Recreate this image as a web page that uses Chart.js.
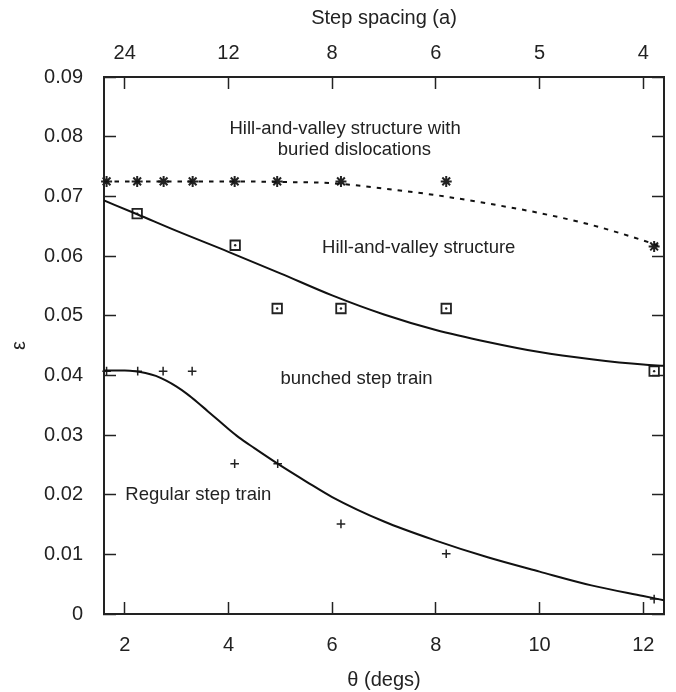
<!DOCTYPE html>
<html>
<head>
<meta charset="utf-8">
<script src="https://cdn.jsdelivr.net/npm/chart.js@4"></script>
<style>
  html, body { margin: 0; padding: 0; background: #fff; }
</style>
</head>
<body>
<canvas id="chart" width="676" height="692"></canvas>
<script>
// measured points
const starTheta = [1.65, 2.24, 2.75, 3.31, 4.12, 4.94, 6.17, 8.2, 12.21];
const starEps = [0.0725, 0.0725, 0.0725, 0.0725, 0.0725, 0.0725, 0.0725, 0.0725, 0.0616];

const squareTheta = [2.24, 4.13, 4.94, 6.17, 8.2, 12.21];
const squareEps = [0.0671, 0.0618, 0.0512, 0.0512, 0.0512, 0.0407];

const plusTheta = [1.65, 2.25, 2.74, 3.3, 4.12, 4.95, 6.17, 8.2, 12.21];
const plusEps = [0.0407, 0.0407, 0.0407, 0.0407, 0.0252, 0.0252, 0.0151, 0.0101, 0.0025];

// fitted curves
const dashTheta = [1.6, 3, 4, 5, 6, 7, 8, 9, 10, 11, 12, 12.4];
const dashEps = [0.0725, 0.0725, 0.0725, 0.0724, 0.0722, 0.0713, 0.0702, 0.0688, 0.0672, 0.0652, 0.0626, 0.0614];

const hvTheta = [1.6, 2.24, 3, 4, 5, 6, 7, 8, 9, 10, 11, 12, 12.4];
const hvEps = [0.0693, 0.067, 0.0642, 0.0607, 0.0571, 0.0534, 0.0502, 0.0476, 0.0456, 0.0439, 0.0427, 0.0418, 0.0416];

const regTheta = [1.6, 2, 2.2, 2.4, 2.6, 2.8, 3, 3.2, 3.4, 3.6, 3.8, 4, 4.2, 4.5, 5, 5.5, 6, 7, 8, 9, 10, 11, 12, 12.4];
const regEps = [0.0408, 0.0408, 0.0407, 0.0404, 0.0399, 0.0391, 0.0381, 0.0369, 0.0355, 0.034, 0.0325, 0.031, 0.0296, 0.0278, 0.0249, 0.0222, 0.0196, 0.0155, 0.0123, 0.0095, 0.0071, 0.0048, 0.003, 0.0023];

// axis ticks
const bottomTicks = [2, 4, 6, 8, 10, 12];
const topTickLabels = ["24", "12", "8", "6", "5", "4"];

const ink = "#222";
const family = "'Liberation Sans', Arial, sans-serif";

function pts(xs, ys) {
  return xs.map((x, i) => ({ x: x, y: ys[i] }));
}

function curve(xs, ys, dash) {
  return {
    data: pts(xs, ys),
    showLine: true,
    borderColor: "#111",
    borderWidth: 2,
    borderDash: dash || [],
    pointRadius: 0,
    cubicInterpolationMode: "monotone",
  };
}

function marks(xs, ys, style, r, w) {
  return {
    data: pts(xs, ys),
    showLine: false,
    pointStyle: style,
    pointRadius: r,
    borderColor: ink,
    backgroundColor: "rgba(0,0,0,0)",
    borderWidth: w,
    clip: false,
  };
}

const notes = {
  id: "notes",
  afterDatasetsDraw(chart) {
    const { ctx, scales } = chart;
    const items = [
      ["Hill-and-valley structure with", 6.25, 0.0813],
      ["buried dislocations", 6.43, 0.0778],
      ["Hill-and-valley structure", 7.67, 0.0613],
      ["bunched step train", 6.47, 0.0394],
      ["Regular step train", 3.42, 0.0199],
    ];
    ctx.save();
    ctx.font = "18.5px " + family;
    ctx.fillStyle = ink;
    ctx.textAlign = "center";
    ctx.textBaseline = "middle";
    items.forEach(function (n) {
      ctx.fillText(n[0], scales.x.getPixelForValue(n[1]), scales.y.getPixelForValue(n[2]));
    });
    ctx.restore();
  },
};

const tickFont = { family: family, size: 20 };
const edge = { color: ink, width: 2 };
const inward = { drawOnChartArea: false, tickLength: -12, tickWidth: 1.5, tickColor: ink };

// fixed box sizes, and no extra room for edge labels
function fixH(h) {
  return function (s) { s.height = h; s.paddingLeft = 0; s.paddingRight = 0; };
}
function fixW(w) {
  return function (s) { s.width = w; s.paddingTop = 0; s.paddingBottom = 0; };
}

const centerDots = marks(squareTheta, squareEps, "circle", 1.2, 0);
centerDots.backgroundColor = ink;

new Chart(document.getElementById("chart"), {
  type: "scatter",
  data: {
    datasets: [
      curve(dashTheta, dashEps, [4.5, 6]),
      curve(hvTheta, hvEps),
      curve(regTheta, regEps),
      marks(starTheta, starEps, "star", 5.5, 2),
      marks(squareTheta, squareEps, "rect", 6.7, 1.8),
      centerDots,
      marks(plusTheta, plusEps, "cross", 4.3, 1.5),
    ],
  },
  options: {
    responsive: false,
    animation: false,
    layout: { padding: 0 },
    plugins: {
      legend: { display: false },
      tooltip: { enabled: false },
    },
    scales: {
      x: {
        type: "linear",
        position: "bottom",
        min: 1.6,
        max: 12.4,
        border: edge,
        grid: inward,
        ticks: { stepSize: 2, includeBounds: false, font: tickFont, color: ink, padding: 31 },
        title: { display: true, text: "θ (degs)", font: tickFont, color: ink, padding: 0 },
        afterFit: fixH(78),
      },
      x2: {
        type: "linear",
        position: "top",
        min: 1.6,
        max: 12.4,
        border: edge,
        grid: inward,
        ticks: {
          stepSize: 2,
          includeBounds: false,
          font: tickFont,
          color: ink,
          padding: 24,
          callback: function (v) {
            const i = bottomTicks.indexOf(v);
            return i < 0 ? "" : topTickLabels[i];
          },
        },
        title: { display: true, text: "Step spacing (a)", font: tickFont, color: ink, padding: { top: 6 } },
        afterFit: fixH(77),
      },
      y: {
        position: "left",
        min: 0,
        max: 0.09,
        border: edge,
        grid: inward,
        ticks: {
          stepSize: 0.01,
          font: tickFont,
          color: ink,
          padding: 33,
          callback: function (v) { return v === 0 ? "0" : v.toFixed(2); },
        },
        title: { display: true, text: "ε", font: tickFont, color: ink, padding: { top: 7 } },
        afterFit: fixW(104),
      },
      y2: {
        position: "right",
        min: 0,
        max: 0.09,
        border: edge,
        grid: inward,
        ticks: { stepSize: 0.01, display: false },
        afterFit: fixW(12),
      },
    },
  },
  plugins: [notes],
});
</script>
</body>
</html>
